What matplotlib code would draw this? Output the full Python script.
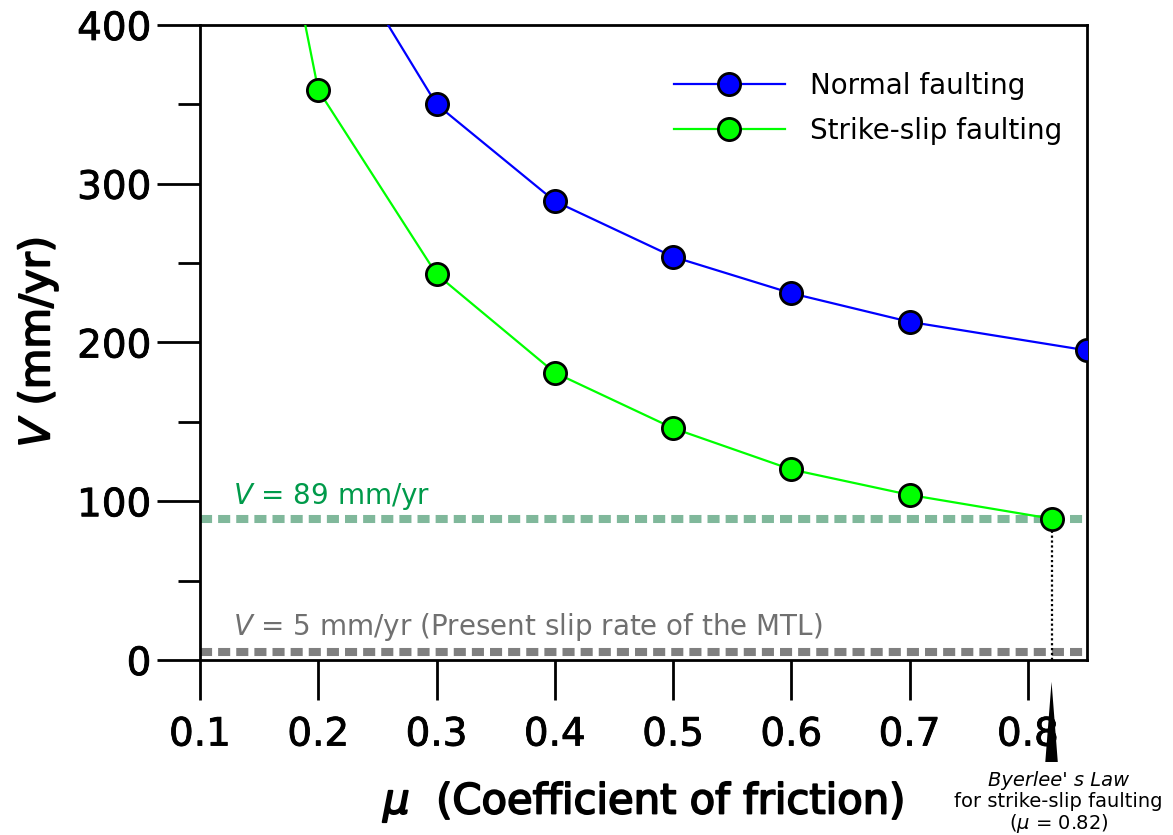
import matplotlib
matplotlib.use("Agg")
import matplotlib.pyplot as plt
import matplotlib.patheffects as pe

plt.rcParams["font.family"] = ["DejaVu Sans"]
plt.rcParams["mathtext.fontset"] = "custom"
plt.rcParams["mathtext.rm"] = "DejaVu Sans"
plt.rcParams["mathtext.it"] = "DejaVu Sans:italic"

# friction coefficient vs. slip rate
mu_normal = [0.2, 0.3, 0.4, 0.5, 0.6, 0.7, 0.85]
v_normal = [472, 350, 289, 254, 231, 213, 195]

mu_strike = [0.1, 0.2, 0.3, 0.4, 0.5, 0.6, 0.7, 0.82]
v_strike = [732, 359, 243, 181, 146, 120, 104, 89]

v_fit = 89
v_mtl = 5
mu_byerlee = 0.82

x_ticks = [0.1, 0.2, 0.3, 0.4, 0.5, 0.6, 0.7, 0.8]
y_ticks = [0, 100, 200, 300, 400]
y_minor = [50, 150, 250, 350]

# slightly heavier text than the plain weight
thick = [pe.withStroke(linewidth=0.6, foreground="black")]
thicker = [pe.withStroke(linewidth=1.3, foreground="black")]

fig = plt.figure(figsize=(11.73, 8.35), dpi=100)
ax = fig.add_axes([0.1705, 0.2096, 0.7562, 0.7605])

ax.axhline(v_fit, color="#80b89b", lw=5.8, dashes=(1.5, 0.75), zorder=1)
ax.axhline(v_mtl, color="#808080", lw=5.8, dashes=(1.5, 0.75), zorder=1)
ax.plot([mu_byerlee, mu_byerlee], [0, v_fit], color="black", lw=1.6, ls=(0, (1, 1.2)), zorder=2)

ax.plot(mu_normal, v_normal, color="#0000ff", lw=1.6, marker="o", ms=16,
        mfc="#0000ff", mec="black", mew=2, label="Normal faulting", zorder=3)
ax.plot(mu_strike, v_strike, color="#00ff00", lw=1.6, marker="o", ms=16,
        mfc="#00ff00", mec="black", mew=2, label="Strike-slip faulting", zorder=3)

ax.text(0.128, 103, r"$V$ = 89 mm/yr", color="#009a4a", fontsize=20, va="center")
ax.text(0.128, 21, r"$V$ = 5 mm/yr (Present slip rate of the MTL)", color="#707070",
        fontsize=20, va="center")

# Byerlee's law marker below the axis
ax.annotate("", xy=(mu_byerlee, -12), xytext=(mu_byerlee, -66),
            arrowprops=dict(arrowstyle="wedge,tail_width=0.9", color="black", lw=0),
            annotation_clip=False)
ax.text(mu_byerlee + 0.006, -70, "Byerlee' s Law", fontsize=14, style="italic",
        ha="center", va="top")
ax.text(mu_byerlee + 0.006, -83, "for strike-slip faulting", fontsize=14,
        ha="center", va="top")
ax.text(mu_byerlee + 0.006, -96, r"($\mu$ = 0.82)", fontsize=14,
        ha="center", va="top")

ax.set_xlim(0.1, 0.85)
ax.set_ylim(0, 400)
ax.set_xticks(x_ticks)
ax.set_xticklabels([f"{t:.1f}" for t in x_ticks])
ax.set_yticks(y_ticks)
ax.set_yticks(y_minor, minor=True)
ax.tick_params(axis="x", which="major", direction="out", length=29, width=2,
               labelsize=28, pad=11)
ax.tick_params(axis="y", which="major", direction="out", length=31, width=2,
               labelsize=28, pad=4)
ax.tick_params(axis="y", which="minor", direction="out", length=16, width=2)
for lab in ax.get_xticklabels() + ax.get_yticklabels():
    lab.set_path_effects(thick)
for s in ax.spines.values():
    s.set_linewidth(2)

ax.set_xlabel(r"$\mu$  (Coefficient of friction)", fontsize=30, labelpad=18,
              path_effects=thicker)
ax.set_ylabel(r"$V$ (mm/yr)", fontsize=30, labelpad=12, path_effects=thicker)

leg = ax.legend(loc="upper right", bbox_to_anchor=(1.0, 0.965), frameon=False,
                fontsize=20, handlelength=4.0, handletextpad=0.9, labelspacing=0.6)

fig.savefig("out.png", dpi=100)
